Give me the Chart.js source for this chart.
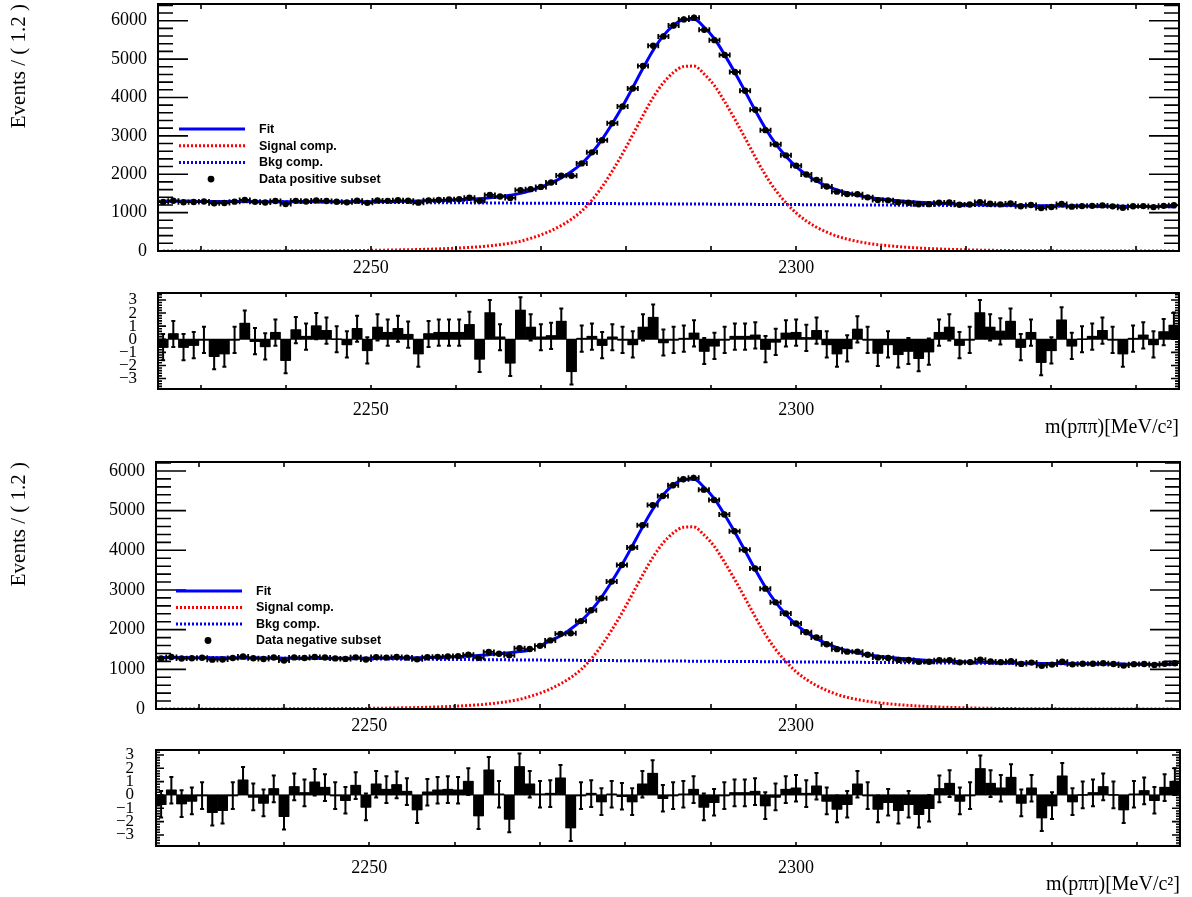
<!DOCTYPE html>
<html>
<head>
<meta charset="utf-8">
<title>m(pππ) fit, positive and negative subsets</title>
<script src="https://cdn.jsdelivr.net/npm/chart.js@4.4.1/dist/chart.umd.min.js"></script>
<style>
  html, body { margin: 0; padding: 0; background: #fff; }
  #wrap { position: relative; width: 1192px; height: 897px; overflow: hidden; background: #fff; }
  #wrap canvas { position: absolute; left: 0; }
</style>
</head>
<body>
<div id="wrap">
  <canvas id="mainPos" width="1192" height="285" style="top:0px"></canvas>
  <canvas id="pullPos" width="1192" height="170" style="top:280px"></canvas>
  <canvas id="mainNeg" width="1192" height="290" style="top:450px"></canvas>
  <canvas id="pullNeg" width="1192" height="167" style="top:730px"></canvas>
</div>
<script>
// ---- binning of the m(p pi pi) histogram: 100 bins of 1.2 MeV ----
const massMin = 2225;
const massMax = 2345;
const binWidth = 1.2;
const nBins = 100;
const binCenters = Array.from({ length: nBins }, (_, i) => massMin + (i + 0.5) * binWidth);

// ---- axis ticks ----
const massTicks = [2230, 2240, 2250, 2260, 2270, 2280, 2290, 2300, 2310, 2320, 2330, 2340];
const massLabels = [2250, 2300];
const countTicks = [0, 1000, 2000, 3000, 4000, 5000, 6000];
const pullTicks = [-3, -2, -1, 0, 1, 2, 3];

// ---- positive subset ----
const posData = [
  1275, 1310, 1272, 1277, 1289, 1244, 1250, 1286, 1330, 1281,
  1265, 1302, 1226, 1307, 1289, 1318, 1304, 1282, 1268, 1312,
  1254, 1318, 1307, 1321, 1309, 1260, 1320, 1331, 1340, 1351,
  1386, 1308, 1460, 1421, 1384, 1587, 1612, 1670, 1784, 1965,
  1959, 2282, 2570, 2886, 3329, 3767, 4234, 4822, 5349, 5591,
  5876, 6034, 6075, 5761, 5493, 5106, 4664, 4173, 3678, 3148,
  2779, 2492, 2223, 1994, 1853, 1679, 1546, 1483, 1479, 1398,
  1326, 1320, 1267, 1256, 1217, 1220, 1259, 1262, 1204, 1210,
  1274, 1230, 1215, 1236, 1165, 1199, 1119, 1148, 1224, 1156,
  1170, 1176, 1188, 1163, 1126, 1164, 1170, 1144, 1176, 1191
];
const posFit = [
  1297, 1296, 1294, 1293, 1291, 1291, 1289, 1288, 1287, 1286,
  1285, 1284, 1283, 1282, 1282, 1282, 1281, 1282, 1282, 1283,
  1284, 1286, 1289, 1292, 1296, 1300, 1306, 1313, 1322, 1333,
  1346, 1363, 1386, 1415, 1453, 1502, 1576, 1664, 1773, 1906,
  2070, 2280, 2560, 2910, 3320, 3770, 4260, 4760, 5230, 5610,
  5880, 6030, 6040, 5830, 5530, 5110, 4650, 4160, 3660, 3190,
  2790, 2470, 2200, 1990, 1825, 1695, 1590, 1510, 1450, 1400,
  1365, 1335, 1309, 1288, 1269, 1254, 1241, 1230, 1220, 1212,
  1205, 1199, 1194, 1189, 1186, 1182, 1179, 1177, 1174, 1173,
  1170, 1169, 1166, 1165, 1164, 1162, 1160, 1158, 1157, 1155
];
const posSignal = [
  0, 0, 0, 0, 0, 1, 1, 1, 1, 2,
  2, 3, 3, 4, 5, 6, 7, 9, 11, 13,
  16, 19, 23, 28, 33, 39, 46, 55, 65, 77,
  92, 110, 135, 165, 205, 255, 330, 420, 530, 665,
  830, 1042, 1323, 1674, 2086, 2537, 3029, 3530, 4002, 4383,
  4655, 4806, 4817, 4609, 4310, 3892, 3433, 2945, 2446, 1977,
  1579, 1260, 992, 783, 620, 491, 387, 309, 250, 202,
  165, 138, 115, 95, 78, 64, 53, 43, 35, 28,
  22, 18, 14, 11, 9, 7, 5, 4, 3, 3,
  2, 2, 1, 1, 1, 1, 0, 0, 0, 0
];
const bkgMass = [2225, 2235, 2245, 2255, 2265, 2275, 2285, 2295, 2305, 2315, 2325, 2335, 2345];
const posBkg = [1298, 1286, 1274, 1262, 1250, 1239, 1227, 1215, 1203, 1191, 1179, 1167, 1155];
const posPull = [
  -0.6, 0.4, -0.6, -0.45, -0.05, -1.3, -1.1, -0.05, 1.2, -0.15,
  -0.55, 0.5, -1.6, 0.7, 0.2, 1.0, 0.65, 0.0, -0.4, 0.8,
  -0.85, 0.9, 0.5, 0.8, 0.35, -1.1, 0.4, 0.5, 0.5, 0.5,
  1.1, -1.5, 2.0, 0.15, -1.8, 2.2, 0.9, 0.15, 0.25, 1.35,
  -2.45, 0.05, 0.2, -0.45, 0.15, -0.05, -0.4, 0.9, 1.65, -0.25,
  -0.05, 0.05, 0.45, -0.9, -0.5, -0.05, 0.2, 0.2, 0.3, -0.75,
  -0.2, 0.45, 0.5, 0.1, 0.65, -0.4, -1.1, -0.7, 0.75, -0.05,
  -1.05, -0.4, -1.15, -0.9, -1.45, -0.95, 0.5, 0.9, -0.45, -0.05,
  2.0, 0.9, 0.6, 1.35, -0.6, 0.5, -1.75, -0.85, 1.45, -0.5,
  0.0, 0.2, 0.65, -0.05, -1.1, 0.05, 0.3, -0.4, 0.55, 1.05
];

// ---- negative subset ----
const negData = [
  1274, 1310, 1272, 1278, 1290, 1244, 1248, 1285, 1325, 1280,
  1262, 1298, 1223, 1301, 1284, 1312, 1297, 1275, 1263, 1302,
  1246, 1308, 1295, 1312, 1296, 1251, 1303, 1315, 1325, 1333,
  1370, 1291, 1438, 1392, 1352, 1530, 1511, 1592, 1729, 1894,
  1908, 2216, 2489, 2789, 3211, 3630, 4071, 4632, 5140, 5370,
  5641, 5791, 5826, 5529, 5269, 4905, 4480, 4012, 3541, 3033,
  2688, 2410, 2155, 1936, 1802, 1632, 1508, 1445, 1445, 1366,
  1295, 1284, 1238, 1234, 1189, 1190, 1228, 1230, 1176, 1182,
  1243, 1199, 1181, 1204, 1137, 1170, 1091, 1119, 1191, 1125,
  1139, 1142, 1154, 1133, 1094, 1131, 1136, 1111, 1141, 1154
];
const negFit = [
  1299, 1297, 1295, 1294, 1292, 1291, 1289, 1287, 1286, 1285,
  1283, 1282, 1280, 1280, 1279, 1278, 1277, 1277, 1277, 1277,
  1278, 1279, 1281, 1285, 1287, 1291, 1296, 1302, 1311, 1320,
  1333, 1348, 1370, 1390, 1420, 1450, 1480, 1590, 1725, 1840,
  2018, 2218, 2484, 2816, 3208, 3636, 4103, 4578, 5027, 5388,
  5645, 5787, 5796, 5596, 5309, 4909, 4470, 4003, 3526, 3077,
  2696, 2390, 2132, 1932, 1775, 1650, 1549, 1472, 1415, 1368,
  1333, 1304, 1279, 1259, 1240, 1225, 1212, 1201, 1192, 1184,
  1176, 1170, 1164, 1160, 1157, 1153, 1149, 1146, 1144, 1142,
  1139, 1137, 1134, 1133, 1131, 1129, 1126, 1124, 1123, 1121
];
// the drawn fit curve is interrupted between these two bins
const negFitBreakAfter = 36;
const negSignal = [
  0, 0, 0, 0, 0, 1, 1, 1, 1, 2,
  2, 3, 3, 4, 5, 6, 7, 9, 10, 12,
  15, 18, 22, 27, 31, 37, 44, 52, 62, 73,
  88, 105, 129, 157, 195, 243, 314, 400, 505, 634,
  791, 993, 1261, 1595, 1988, 2418, 2887, 3364, 3814, 4177,
  4436, 4580, 4591, 4392, 4107, 3709, 3272, 2807, 2331, 1884,
  1505, 1201, 945, 746, 591, 468, 369, 294, 238, 193,
  160, 133, 110, 91, 74, 61, 50, 41, 33, 27,
  21, 17, 13, 10, 9, 7, 5, 4, 3, 3,
  2, 2, 1, 1, 1, 1, 0, 0, 0, 0
];
const negBkg = [1300, 1285, 1270, 1255, 1240, 1225, 1210, 1195, 1180, 1165, 1150, 1136, 1121];
const negPull = [
  -0.7, 0.35, -0.65, -0.45, -0.05, -1.3, -1.15, -0.05, 1.1, -0.15,
  -0.6, 0.45, -1.6, 0.6, 0.15, 0.95, 0.55, -0.05, -0.4, 0.7,
  -0.9, 0.8, 0.4, 0.75, 0.25, -1.1, 0.2, 0.35, 0.4, 0.35,
  1.0, -1.55, 1.85, 0.05, -1.8, 2.1, 0.8, 0.05, 0.1, 1.25,
  -2.45, -0.05, 0.1, -0.5, 0.05, -0.1, -0.5, 0.8, 1.6, -0.25,
  -0.05, 0.05, 0.4, -0.9, -0.55, -0.05, 0.15, 0.15, 0.25, -0.8,
  -0.15, 0.4, 0.5, 0.1, 0.65, -0.45, -1.05, -0.7, 0.8, -0.05,
  -1.05, -0.55, -1.15, -0.7, -1.45, -1.0, 0.45, 0.85, -0.45, -0.05,
  1.95, 0.85, 0.5, 1.3, -0.6, 0.5, -1.7, -0.8, 1.4, -0.5,
  0.0, 0.15, 0.6, 0.0, -1.1, 0.05, 0.3, -0.4, 0.55, 1.0
];

// ---- styling ----
const SERIF = "'Liberation Serif', 'Times New Roman', serif";
const SANS = "'Liberation Sans', Arial, Helvetica, sans-serif";
const tickFont = { family: SERIF, size: 18 };
const pullTickFont = { family: SERIF, size: 17 };
const minus = v => (v < 0 ? '\u2212' + Math.abs(v) : String(v));

// plot-frame look per canvas: frame box, inward ticks on all four sides
const frameStyle = {
  mainPos: { yMajor: 30, yMinor: 15, yMinorStep: 200, xLen: 5 },
  mainNeg: { yMajor: 30, yMinor: 15, yMinorStep: 200, xLen: 5 },
  pullPos: { yMajor: 8, yMinor: 4, yMinorStep: 0.2, xLen: 4 },
  pullNeg: { yMajor: 8, yMinor: 4, yMinorStep: 0.2, xLen: 4 }
};

const rootFrame = {
  id: 'rootFrame',
  afterDatasetsDraw(chart) {
    const st = frameStyle[chart.canvas.id];
    if (!st) return;
    const { ctx, chartArea: a } = chart;
    const xs = chart.scales.x, ys = chart.scales.y;
    ctx.save();
    ctx.strokeStyle = '#000';
    ctx.lineWidth = 1.6;
    ctx.beginPath();
    massTicks.forEach(v => {
      const px = Math.round(xs.getPixelForValue(v));
      ctx.moveTo(px, a.bottom); ctx.lineTo(px, a.bottom - st.xLen);
      ctx.moveTo(px, a.top); ctx.lineTo(px, a.top + st.xLen);
    });
    const majors = ys.ticks.map(t => t.value);
    majors.forEach(v => {
      const py = ys.getPixelForValue(v);
      ctx.moveTo(a.left, py); ctx.lineTo(a.left + st.yMajor, py);
      ctx.moveTo(a.right, py); ctx.lineTo(a.right - st.yMajor, py);
    });
    const start = Math.ceil(ys.min / st.yMinorStep - 1e-9);
    const stop = Math.floor(ys.max / st.yMinorStep + 1e-9);
    for (let k = start; k <= stop; k++) {
      const v = k * st.yMinorStep;
      if (majors.some(m => Math.abs(m - v) < 1e-6)) continue;
      const py = ys.getPixelForValue(v);
      ctx.moveTo(a.left, py); ctx.lineTo(a.left + st.yMinor, py);
      ctx.moveTo(a.right, py); ctx.lineTo(a.right - st.yMinor, py);
    }
    ctx.stroke();
    ctx.lineWidth = 2;
    ctx.strokeRect(a.left, a.top, a.right - a.left, a.bottom - a.top);
    ctx.restore();
  }
};

// statistical error bars of the data points (horizontal: bin width)
const dataErrors = {
  id: 'dataErrors',
  afterDatasetsDraw(chart) {
    const idx = chart.data.datasets.findIndex(d => d.isData);
    if (idx < 0) return;
    const { ctx } = chart;
    const xs = chart.scales.x, ys = chart.scales.y;
    ctx.save();
    ctx.strokeStyle = '#000';
    ctx.lineWidth = 1.8;
    ctx.beginPath();
    chart.data.datasets[idx].data.forEach(p => {
      const cx = xs.getPixelForValue(p.x), cy = ys.getPixelForValue(p.y);
      const xl = xs.getPixelForValue(p.x - binWidth / 2), xr = xs.getPixelForValue(p.x + binWidth / 2);
      const e = Math.sqrt(p.y);
      const yt = ys.getPixelForValue(p.y + e), yb = ys.getPixelForValue(p.y - e);
      ctx.moveTo(xl, cy); ctx.lineTo(xr, cy);
      ctx.moveTo(xl, cy - 2.5); ctx.lineTo(xl, cy + 2.5);
      ctx.moveTo(xr, cy - 2.5); ctx.lineTo(xr, cy + 2.5);
      ctx.moveTo(cx, yt); ctx.lineTo(cx, yb);
    });
    ctx.stroke();
    ctx.restore();
  }
};

// pull panel: zero line below the bars, unit error bars on top
const pullDecor = {
  id: 'pullDecor',
  beforeDatasetsDraw(chart) {
    if (!chart.canvas.id.startsWith('pull')) return;
    const { ctx, chartArea: a } = chart;
    const py = chart.scales.y.getPixelForValue(0);
    ctx.save();
    ctx.strokeStyle = '#666';
    ctx.lineWidth = 1;
    ctx.beginPath(); ctx.moveTo(a.left, py); ctx.lineTo(a.right, py); ctx.stroke();
    ctx.restore();
  },
  afterDatasetsDraw(chart) {
    if (!chart.canvas.id.startsWith('pull')) return;
    const { ctx } = chart;
    const xs = chart.scales.x, ys = chart.scales.y;
    ctx.save();
    ctx.strokeStyle = '#000';
    chart.data.datasets[0].data.forEach(p => {
      const cx = xs.getPixelForValue(p.x);
      const xl = xs.getPixelForValue(p.x - binWidth / 2), xr = xs.getPixelForValue(p.x + binWidth / 2);
      const yv = ys.getPixelForValue(p.y);
      const yt = ys.getPixelForValue(p.y + 1), yb = ys.getPixelForValue(p.y - 1);
      ctx.lineWidth = 1.5;
      ctx.beginPath(); ctx.moveTo(xl, yv); ctx.lineTo(xr, yv); ctx.stroke();
      ctx.lineWidth = 2;
      ctx.beginPath();
      ctx.moveTo(cx, yt); ctx.lineTo(cx, yb);
      ctx.moveTo(cx - 2, yt); ctx.lineTo(cx + 2, yt);
      ctx.moveTo(cx - 2, yb); ctx.lineTo(cx + 2, yb);
      ctx.stroke();
    });
    ctx.restore();
  }
};

// legend box inside the main panels
const legendPlace = {
  mainPos: { x0: 179, x1: 245, xDot: 211, xText: 259, y0: 129, dy: 16.7 },
  mainNeg: { x0: 176, x1: 242, xDot: 208, xText: 256, y0: 141, dy: 16.5 }
};
const rootLegend = {
  id: 'rootLegend',
  afterDraw(chart) {
    const L = legendPlace[chart.canvas.id];
    if (!L) return;
    const { ctx } = chart;
    ctx.save();
    chart.data.datasets.forEach((ds, k) => {
      const yy = L.y0 + k * L.dy;
      if (ds.isData) {
        ctx.fillStyle = '#000';
        ctx.beginPath(); ctx.arc(L.xDot, yy, 3.4, 0, Math.PI * 2); ctx.fill();
      } else {
        ctx.strokeStyle = ds.borderColor;
        ctx.lineWidth = ds.borderWidth;
        ctx.setLineDash(ds.borderDash || []);
        ctx.beginPath(); ctx.moveTo(L.x0, yy); ctx.lineTo(L.x1, yy); ctx.stroke();
        ctx.setLineDash([]);
      }
      ctx.fillStyle = '#000';
      ctx.font = 'bold 12.5px ' + SANS;
      ctx.textBaseline = 'middle';
      ctx.textAlign = 'left';
      ctx.fillText(ds.label, L.xText, yy + 0.5);
    });
    ctx.restore();
  }
};

Chart.register(rootFrame, dataErrors, pullDecor, rootLegend);

function baseX(g, labelPad, title) {
  return {
    type: 'linear', min: massMin, max: massMax, offset: false,
    grid: { display: false, drawTicks: false }, border: { display: false },
    afterBuildTicks: s => { s.ticks = massLabels.map(v => ({ value: v })); },
    afterFit: s => { s.height = g.h - g.bottom; s.paddingLeft = 0; s.paddingRight = 0; },
    ticks: { color: '#000', font: tickFont, padding: labelPad, maxRotation: 0, minRotation: 0, autoSkip: false, callback: v => String(v) },
    title: title ? { display: true, text: title, align: 'end', color: '#000', font: { family: SERIF, size: 20 }, padding: { top: 0, bottom: g.titlePad } } : { display: false }
  };
}

function mainChart(id, g, fit, sig, bkg, dat, dataLabel, yMax, fitBreak) {
  const pts = arr => arr.map((v, i) => ({ x: binCenters[i], y: v }));
  const fitSet = {
    label: 'Fit', data: pts(fit), borderColor: '#0000ff', borderWidth: 3,
    pointRadius: 0, cubicInterpolationMode: 'monotone', order: 1
  };
  if (fitBreak != null) {
    fitSet.segment = { borderColor: c => (c.p0DataIndex === fitBreak ? 'rgba(0,0,0,0)' : undefined) };
  }
  return new Chart(document.getElementById(id), {
    type: 'line',
    data: {
      datasets: [
        fitSet,
        { label: 'Signal comp.', data: pts(sig), borderColor: '#ff0000', borderWidth: 3, borderDash: [2, 2],
          pointRadius: 0, cubicInterpolationMode: 'monotone', order: 2 },
        { label: 'Bkg comp.', data: bkgMass.map((m, i) => ({ x: m, y: bkg[i] })), borderColor: '#0000ff',
          borderWidth: 3, borderDash: [2, 2], pointRadius: 0, order: 3 },
        { type: 'scatter', label: dataLabel, isData: true, data: pts(dat), showLine: false,
          pointRadius: 3.2, pointBackgroundColor: '#000', pointBorderWidth: 0, order: 0 }
      ]
    },
    options: {
      responsive: false, animation: false, events: [],
      layout: { padding: { top: g.top, right: 1192 - g.right, left: 0, bottom: 0 } },
      plugins: { legend: { display: false }, tooltip: { enabled: false } },
      scales: {
        x: baseX(g, 6, null),
        y: {
          min: 0, max: yMax,
          grid: { display: false, drawTicks: false }, border: { display: false },
          afterBuildTicks: s => { s.ticks = countTicks.map(v => ({ value: v })); },
          afterFit: s => { s.width = g.left; s.paddingTop = 0; s.paddingBottom = 0; },
          ticks: { color: '#000', font: tickFont, padding: 11, autoSkip: false, callback: v => String(v) },
          title: { display: true, text: 'Events / ( 1.2 )', align: 'end', color: '#000',
                   font: { family: SERIF, size: 21 }, padding: { top: 7, bottom: 0 } }
        }
      }
    }
  });
}

function pullChart(id, g, pull, yMin, yMax) {
  return new Chart(document.getElementById(id), {
    type: 'bar',
    data: {
      datasets: [{
        label: 'Pull', data: pull.map((v, i) => ({ x: binCenters[i], y: v })),
        backgroundColor: '#000', borderWidth: 0, barPercentage: 1, categoryPercentage: 1
      }]
    },
    options: {
      responsive: false, animation: false, events: [],
      layout: { padding: { top: g.top, right: 1192 - g.right, left: 0, bottom: 0 } },
      plugins: { legend: { display: false }, tooltip: { enabled: false } },
      scales: {
        x: baseX(g, g.labelPad, 'm(p\u03c0\u03c0)[MeV/c\u00b2]'),
        y: {
          min: yMin, max: yMax,
          grid: { display: false, drawTicks: false }, border: { display: false },
          afterBuildTicks: s => { s.ticks = pullTicks.map(v => ({ value: v })); },
          afterFit: s => { s.width = g.left; s.paddingTop = 0; s.paddingBottom = 0; },
          ticks: { color: '#000', font: pullTickFont, padding: g.yPad, autoSkip: false, callback: v => minus(v) }
        }
      }
    }
  });
}

// panel geometry (canvas-local pixels)
const gMainPos = { h: 285, left: 158, right: 1179, top: 4, bottom: 251 };
const gPullPos = { h: 170, left: 158, right: 1179, top: 13, bottom: 109, labelPad: 10, titlePad: 10, yPad: 21 };
const gMainNeg = { h: 290, left: 156, right: 1180, top: 12, bottom: 259 };
const gPullNeg = { h: 167, left: 156, right: 1180, top: 20, bottom: 116, labelPad: 11, titlePad: 0, yPad: 22 };

mainChart('mainPos', gMainPos, posFit, posSignal, posBkg, posData, 'Data positive subset', 6435, null);
pullChart('pullPos', gPullPos, posPull, -3.8, 3.53);
mainChart('mainNeg', gMainNeg, negFit, negSignal, negBkg, negData, 'Data negative subset', 6226, negFitBreakAfter);
pullChart('pullNeg', gPullNeg, negPull, -3.83, 3.37);
</script>
</body>
</html>
